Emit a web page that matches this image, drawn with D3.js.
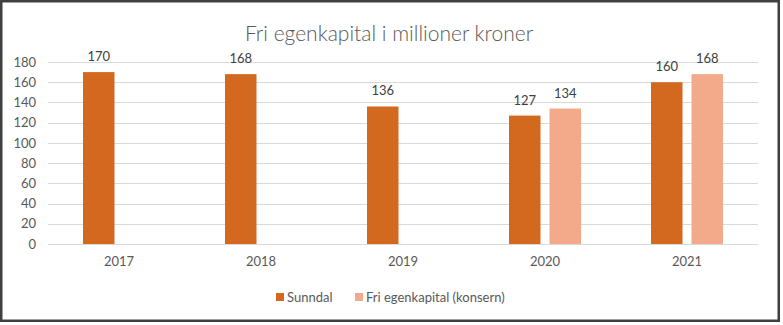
<!DOCTYPE html>
<html>
<head>
<meta charset="utf-8">
<script src="https://cdn.jsdelivr.net/npm/d3@7"></script>
<style>
  html, body { margin: 0; padding: 0; background: #fff; }
  svg { display: block; }
  text { font-family: "Lato", "Liberation Sans", sans-serif; }
</style>
</head>
<body>
<svg id="chart" width="783" height="325"></svg>
<script>
const title = "Fri egenkapital i millioner kroner";
const categories = ["2017", "2018", "2019", "2020", "2021"];
const seriesNames = ["Sunndal", "Fri egenkapital (konsern)"];
const sunndal = [170, 168, 136, 127, 160];
const konsern = [null, null, null, 134, 168];
const yTicks = [0, 20, 40, 60, 80, 100, 120, 140, 160, 180];
const colors = ["#D2691F", "#F2AA8A"];

const svg = d3.select("#chart");

// outer border
svg.append("rect")
  .attr("x", 1.25).attr("y", 1.25)
  .attr("width", 777.5).attr("height", 319.5)
  .attr("fill", "#fff")
  .attr("stroke", "#404040")
  .attr("stroke-width", 2.5);

const plot = { left: 48, right: 758, top: 62, bottom: 244 };

const x = d3.scaleBand().domain(categories).range([plot.left, plot.right]).padding(0);
const y = d3.scaleLinear().domain([0, 180]).range([plot.bottom, plot.top]);
const barW = 31.5, innerGap = 9;
const x1 = d3.scaleBand().domain(seriesNames)
  .range([-(barW + innerGap / 2), barW + innerGap / 2])
  .paddingInner(innerGap / (barW + innerGap)).paddingOuter(0);

// gridlines
svg.append("g").selectAll("line").data(yTicks).join("line")
  .attr("x1", plot.left).attr("x2", plot.right)
  .attr("y1", d => Math.round(y(d)) + 0.5).attr("y2", d => Math.round(y(d)) + 0.5)
  .attr("stroke", "#D9D9D9").attr("stroke-width", 1);

// y axis labels
const yAxis = d3.axisLeft(y).tickValues(yTicks).tickSize(0).tickPadding(0);
const yg = svg.append("g").attr("transform", `translate(${36},0)`).call(yAxis);
yg.select(".domain").remove();
yg.selectAll("text").attr("fill", "#595959").style("font-size", "13px")
  .style("font-family", '"Lato", "Liberation Sans", sans-serif');

// x axis labels
const xAxis = d3.axisBottom(x).tickSize(0).tickPadding(0);
const xg = svg.append("g").attr("transform", `translate(0,${plot.bottom + 13})`).call(xAxis);
xg.select(".domain").remove();
xg.selectAll("text").attr("fill", "#595959").style("font-size", "13px")
  .style("font-family", '"Lato", "Liberation Sans", sans-serif');

// bars
const seriesData = [sunndal, konsern];
seriesData.forEach((vals, si) => {
  const data = categories.map((c, i) => ({ c, v: vals[i] })).filter(d => d.v != null);
  const g = svg.append("g");
  g.selectAll("rect").data(data).join("rect")
    .attr("x", d => x(d.c) + x.bandwidth() / 2 + x1(seriesNames[si]))
    .attr("width", x1.bandwidth())
    .attr("y", d => y(d.v))
    .attr("height", d => y(0) - y(d.v))
    .attr("fill", colors[si]);
  g.selectAll("text").data(data).join("text")
    .attr("x", d => x(d.c) + x.bandwidth() / 2 + x1(seriesNames[si]) + x1.bandwidth() / 2)
    .attr("y", d => y(d.v) - 11)
    .attr("text-anchor", "middle")
    .attr("fill", "#404040")
    .style("font-size", "13px")
    .text(d => d.v);
});

// title
svg.append("text")
  .attr("x", 389).attr("y", 41)
  .attr("text-anchor", "middle")
  .attr("fill", "#595959")
  .style("font-size", "21px")
  .style("font-weight", 300)
  .text(title);

// legend
const legendItems = [
  { name: seriesNames[0], color: colors[0], x: 276 },
  { name: seriesNames[1], color: colors[1], x: 355 }
];
const lg = svg.append("g");
legendItems.forEach(it => {
  lg.append("rect").attr("x", it.x).attr("y", 293).attr("width", 8).attr("height", 8).attr("fill", it.color);
  lg.append("text").attr("x", it.x + 11).attr("y", 302)
    .attr("fill", "#595959").style("font-size", "13px").text(it.name);
});
</script>
</body>
</html>
